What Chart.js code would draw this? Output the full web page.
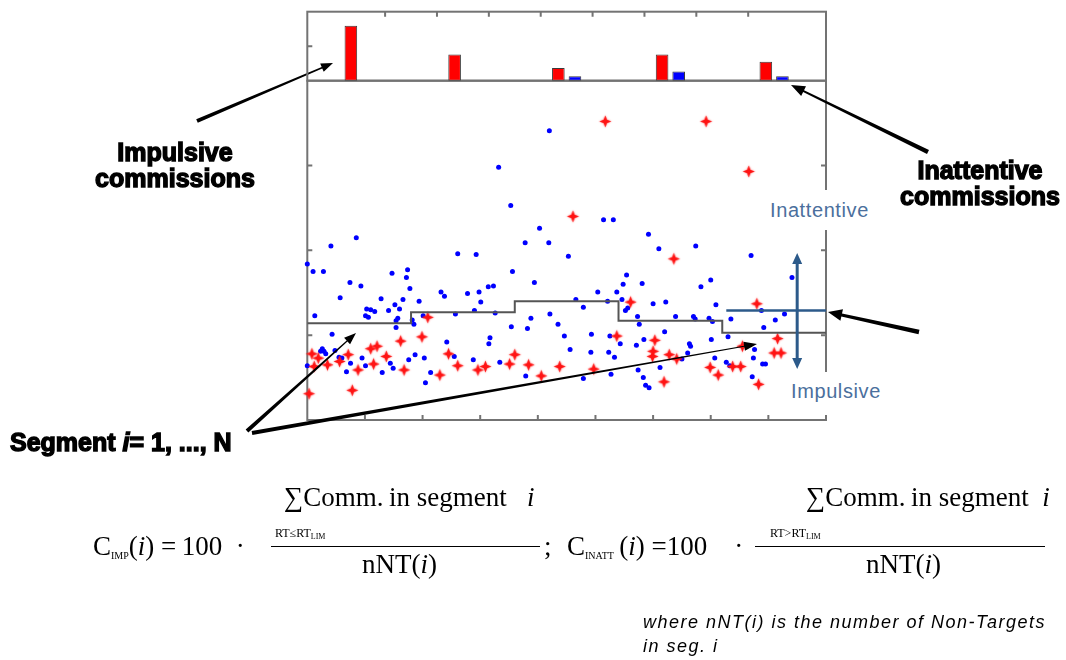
<!DOCTYPE html>
<html>
<head>
<meta charset="utf-8">
<script src="https://cdn.jsdelivr.net/npm/chart.js@4.4.0/dist/chart.umd.min.js"></script>
<style>
  html, body { margin: 0; padding: 0; background: #fff; }
  #wrap { position: relative; width: 1066px; height: 660px; overflow: hidden; }
  canvas { position: absolute; left: 0; top: 0; }
  .t { position: absolute; white-space: nowrap; z-index: 5; }
  .heavy { font-family: "Liberation Sans", Arial, sans-serif; font-weight: bold; font-size: 25px;
           line-height: 26px; color: #000; -webkit-text-stroke: 1.4px #000; text-align: center; }
  .zone { font-family: "Liberation Sans", Arial, sans-serif; font-size: 20px; color: #4b6f9d;
          letter-spacing: 0.6px; background: #fff; padding: 0 6px; }
  .f { font-family: "Liberation Serif", "Times New Roman", serif; font-size: 27px; line-height: 27px; color: #000; }
  .f .sub { font-size: 10px; position: relative; top: 4px; }
  .small { font-family: "Liberation Serif", "Times New Roman", serif; font-size: 12px; line-height: 12px; }
  .small .sub { font-size: 8px; position: relative; top: 2px; }
  .bar { position: absolute; height: 1px; background: #000; z-index: 5; }
  .note { font-family: "Liberation Sans", Arial, sans-serif; font-style: italic; font-size: 18px;
          line-height: 24px; letter-spacing: 1.5px; color: #000; }
</style>
</head>
<body>
<div id="wrap">
  <canvas id="scatter" width="1066" height="660"></canvas>
  <canvas id="bars" width="1066" height="100"></canvas>

  <!-- annotations -->
  <div class="t heavy" style="left:75px;top:139px;width:200px">Impulsive<br>commissions</div>
  <div class="t heavy" style="left:880px;top:157px;width:200px">Inattentive<br>commissions</div>
  <div class="t heavy" style="left:10px;top:429px">Segment <i>i</i>= 1, ..., N</div>

  <div class="t zone" style="left:764px;top:190px;height:40px;line-height:40px">Inattentive</div>
  <div class="t zone" style="left:785px;top:372px;height:38px;line-height:38px;padding-bottom:5px">Impulsive</div>

  <!-- formulas -->
  <div class="t f" style="left:284px;top:484px">&sum;Comm.&thinsp;in segment&nbsp;&nbsp;&nbsp;<i>i</i></div>
  <div class="t f" style="left:93px;top:533px">C<span class="sub">IMP</span>(<i>i</i>)&nbsp;=&thinsp;100&nbsp;&nbsp;&middot;</div>
  <div class="t small" style="left:275px;top:527px">RT&le;RT<span class="sub">LIM</span></div>
  <div class="bar" style="left:271px;top:546px;width:269px"></div>
  <div class="t f" style="left:544px;top:533px">;</div>
  <div class="t f" style="left:362px;top:551px">nNT(<i>i</i>)</div>

  <div class="t f" style="left:806px;top:484px">&sum;Comm.&thinsp;in segment&nbsp;&nbsp;<i>i</i></div>
  <div class="t f" style="left:567px;top:533px">C<span class="sub">INATT</span>&thinsp;(<i>i</i>)&nbsp;=100&nbsp;&nbsp;&nbsp;&nbsp;&middot;</div>
  <div class="t small" style="left:770px;top:527px">RT&gt;RT<span class="sub">LIM</span></div>
  <div class="bar" style="left:755px;top:546px;width:290px"></div>
  <div class="t f" style="left:866px;top:551px">nNT(<i>i</i>)</div>

  <div class="t note" style="left:643px;top:610px">where nNT(i) is the number of Non-Targets<br>in seg. i</div>
</div>

<script>
// segments of the test (top panel categories)
var segments = ["1", "2", "3", "4", "5"];
var impulsiveComm = [1.59, 0.76, 0.37, 0.76, 0.55];
var inattentiveComm = [0, 0, 0.13, 0.27, 0.13];

// segment borders and RT threshold per segment
var segmentEdges = [0, 1.8, 3.6, 5.4, 7.2, 9];
var segmentLimit = [1.14, 1.27, 1.40, 1.17, 1.03];

// global RT limit line and the impulsive / inattentive arrow
var rtLimit = 1.29;
var rtLimitStart = 7.27;
var zoneArrowX = 8.5;
var zoneArrowTop = 1.97;
var zoneArrowBottom = 0.60;

// axis tick values
var xTickValues = [1, 2, 3, 4, 5, 6, 7, 8];
var yTickValues = [1, 2, 3];
var barTickValues = [1];

// reaction times of non-targets (blue) and commissions (red)
var nonTargets = [
    [4.20, 3.41], [3.32, 2.98], [3.53, 2.53], [5.14, 2.36], [5.31, 2.36], [4.03, 2.26],
    [0.85, 2.15], [0.41, 2.05], [0.00, 1.84], [0.10, 1.75], [0.28, 1.75], [0.74, 1.62],
    [0.93, 1.58], [1.47, 1.73], [1.74, 1.77], [1.72, 1.68], [1.78, 1.55], [2.32, 1.51],
    [2.38, 1.46], [0.57, 1.44], [1.28, 1.43], [1.66, 1.42], [1.52, 1.36], [1.94, 1.40],
    [1.60, 1.31], [1.41, 1.29], [1.03, 1.31], [1.10, 1.30], [1.17, 1.28], [1.01, 1.23],
    [1.06, 1.21], [0.13, 1.23], [1.57, 1.20], [1.54, 1.17], [1.82, 1.18], [1.85, 1.13],
    [1.54, 1.09], [2.01, 1.23], [0.43, 1.01], [0.26, 0.84], [0.29, 0.81], [0.23, 0.81],
    [0.32, 0.78], [0.48, 0.82], [0.55, 0.74], [0.60, 0.73], [0.75, 0.67], [0.68, 0.57],
    [0.95, 0.73], [1.01, 0.64], [1.30, 0.56], [1.44, 0.67], [1.49, 0.61], [1.76, 0.71],
    [1.87, 0.77], [2.03, 0.73], [2.14, 0.56], [2.05, 0.44], [0.00, 0.64],
    [2.61, 1.96], [2.93, 1.95], [3.78, 2.09], [4.19, 2.09], [4.53, 1.93], [3.56, 1.75],
    [3.94, 1.62], [3.14, 1.57], [3.23, 1.58], [2.78, 1.49], [2.98, 1.51], [3.01, 1.39],
    [2.90, 1.29], [2.57, 1.25], [3.26, 1.26], [4.21, 1.25], [3.88, 1.20], [3.54, 1.10],
    [3.82, 1.08], [4.35, 1.13], [4.46, 0.99], [3.17, 0.97], [3.15, 0.90], [2.42, 0.92],
    [4.56, 0.83], [2.55, 0.75], [2.88, 0.71], [3.34, 0.68], [3.79, 0.52],
    [5.92, 2.19], [6.10, 2.02], [6.74, 2.05], [5.54, 1.71], [5.48, 1.60], [5.81, 1.61],
    [5.04, 1.51], [5.37, 1.51], [4.66, 1.42], [5.21, 1.40], [5.46, 1.42], [5.56, 1.32],
    [5.52, 1.29], [6.00, 1.37], [6.22, 1.39], [4.79, 1.33], [5.73, 1.22], [5.76, 1.13],
    [6.39, 1.22], [6.70, 1.22], [6.73, 1.19], [4.93, 1.01], [5.25, 0.99], [5.43, 0.90],
    [6.20, 1.04], [5.84, 0.95], [5.71, 0.88], [4.92, 0.80], [5.23, 0.80], [5.33, 0.74],
    [6.63, 0.90], [6.65, 0.87], [6.60, 0.79], [6.50, 0.72], [6.12, 0.62], [5.74, 0.59],
    [5.83, 0.50], [5.87, 0.41], [5.93, 0.38], [5.27, 0.54], [4.79, 0.49],
    [7.70, 1.94], [7.00, 1.65], [6.83, 1.57], [8.41, 1.68], [7.09, 1.36], [6.97, 1.20],
    [7.03, 1.16], [7.35, 1.19], [7.88, 1.29], [8.28, 1.25], [8.12, 1.18], [7.92, 1.09],
    [7.01, 0.95], [7.30, 0.98], [7.76, 0.83], [7.07, 0.73], [7.74, 0.73], [7.27, 0.68],
    [7.33, 0.64], [7.90, 0.66], [7.95, 0.66], [7.72, 0.51]
];
var commissions = [
    [5.17, 3.52], [6.92, 3.52], [7.66, 2.93], [4.61, 2.40], [6.36, 1.90],
    [2.09, 1.21], [1.62, 0.93], [1.99, 0.98], [1.21, 0.87], [1.10, 0.84], [1.37, 0.75],
    [0.71, 0.77], [0.08, 0.78], [0.19, 0.73], [0.35, 0.65], [0.12, 0.63], [0.56, 0.69],
    [0.88, 0.59], [1.15, 0.66], [1.68, 0.59], [0.78, 0.35], [0.03, 0.31], [2.30, 0.53],
    [2.45, 0.78], [2.61, 0.64], [2.96, 0.59], [3.09, 0.63], [3.60, 0.77], [3.51, 0.66],
    [3.84, 0.65], [4.06, 0.52], [4.38, 0.63],
    [5.61, 1.39], [5.37, 0.99], [6.03, 0.94], [6.00, 0.81], [5.99, 0.75], [6.28, 0.77],
    [6.41, 0.72], [4.97, 0.60], [6.19, 0.45],
    [7.80, 1.37], [8.16, 0.96], [7.55, 0.87], [8.10, 0.79], [8.22, 0.79], [6.99, 0.62],
    [7.13, 0.53], [7.38, 0.63], [7.52, 0.63], [7.83, 0.42]
];

function toPoints(list) {
    return list.map(function (p) { return { x: p[0], y: p[1] }; });
}

// red 4-point star marker
function makeStar(size) {
    var c = document.createElement("canvas");
    c.width = size; c.height = size;
    var g = c.getContext("2d");
    var r = size / 2;
    g.translate(r, r);
    g.fillStyle = "#ff1414";
    g.shadowColor = "rgba(255,40,40,0.6)";
    g.shadowBlur = 2;
    g.beginPath();
    for (var i = 0; i < 8; i++) {
        var a = i * Math.PI / 4 - Math.PI / 2;
        var rad = i % 2 === 0 ? r - 1.5 : r * 0.32;
        g.lineTo(Math.cos(a) * rad, Math.sin(a) * rad);
    }
    g.closePath();
    g.fill();
    return c;
}

// arrow with a thick tail and a thin shaft
function taperArrow(ctx, x0, y0, x1, y1, w0, w1, head, headW) {
    var dx = x1 - x0, dy = y1 - y0, len = Math.hypot(dx, dy);
    var ux = dx / len, uy = dy / len, nx = -uy, ny = ux;
    var bx = x1 - ux * head, by = y1 - uy * head;
    ctx.beginPath();
    ctx.moveTo(x0 + nx * w0 / 2, y0 + ny * w0 / 2);
    ctx.lineTo(bx + nx * w1 / 2, by + ny * w1 / 2);
    ctx.lineTo(bx + nx * headW / 2, by + ny * headW / 2);
    ctx.lineTo(x1, y1);
    ctx.lineTo(bx - nx * headW / 2, by - ny * headW / 2);
    ctx.lineTo(bx - nx * w1 / 2, by - ny * w1 / 2);
    ctx.lineTo(x0 - nx * w0 / 2, y0 - ny * w0 / 2);
    ctx.closePath();
    ctx.fill();
}

var frameColor = "#737373";

// frame of the scatter panel with inward ticks
var scatterFrame = {
    id: "scatterFrame",
    beforeDatasetsDraw: function (chart) {
        var ctx = chart.ctx, a = chart.chartArea, x = chart.scales.x, y = chart.scales.y;
        ctx.save();
        ctx.strokeStyle = frameColor;
        ctx.lineWidth = 2;
        ctx.strokeRect(a.left, a.top, a.right - a.left, a.bottom - a.top);
        ctx.beginPath();
        xTickValues.forEach(function (v) {
            var px = x.getPixelForValue(v);
            ctx.moveTo(px, a.bottom); ctx.lineTo(px, a.bottom - 5);
        });
        yTickValues.forEach(function (v) {
            var py = y.getPixelForValue(v);
            ctx.moveTo(a.left, py); ctx.lineTo(a.left + 5, py);
            ctx.moveTo(a.right, py); ctx.lineTo(a.right - 5, py);
        });
        ctx.stroke();
        ctx.restore();
    },
    afterDraw: function (chart) {
        var ctx = chart.ctx, x = chart.scales.x, y = chart.scales.y;
        ctx.save();
        // impulsive / inattentive double arrow
        var ax = x.getPixelForValue(zoneArrowX);
        var top = y.getPixelForValue(zoneArrowTop), bottom = y.getPixelForValue(zoneArrowBottom);
        ctx.fillStyle = "#2c5a8a";
        taperArrow(ctx, ax, (top + bottom) / 2, ax, top, 3, 3, 11, 10);
        taperArrow(ctx, ax, (top + bottom) / 2, ax, bottom, 3, 3, 11, 10);
        // black pointer arrows
        ctx.fillStyle = "#000";
        taperArrow(ctx, 197, 121, 333, 63, 4, 1.5, 12, 9);
        taperArrow(ctx, 928, 152, 791, 85, 4.5, 2, 14, 11);
        taperArrow(ctx, 919, 332, 828, 312, 4.5, 3, 14, 12);
        taperArrow(ctx, 247, 431, 356, 333, 4, 1.2, 12, 9);
        taperArrow(ctx, 252, 433, 757, 344, 4, 1.2, 13, 9);
        ctx.restore();
    }
};

var scatterChart = new Chart(document.getElementById("scatter"), {
    type: "scatter",
    data: {
        datasets: [{
            label: "Segment limit",
            type: "line",
            data: segmentEdges.map(function (e, i) {
                return { x: e, y: segmentLimit[Math.min(i, segmentLimit.length - 1)] };
            }),
            stepped: true,
            borderColor: "#555555",
            borderWidth: 2,
            pointRadius: 0,
            fill: false
        }, {
            label: "RT limit",
            type: "line",
            data: [{ x: rtLimitStart, y: rtLimit }, { x: segmentEdges[segmentEdges.length - 1], y: rtLimit }],
            borderColor: "#2c5a8a",
            borderWidth: 2.5,
            pointRadius: 0,
            fill: false
        }, {
            label: "Commissions",
            data: toPoints(commissions),
            pointStyle: makeStar(15),
            pointRadius: 7,
            clip: 8
        }, {
            label: "Non-targets",
            data: toPoints(nonTargets),
            pointStyle: "circle",
            pointRadius: 2.5,
            backgroundColor: "#0000ff",
            borderWidth: 0,
            clip: 6
        }]
    },
    options: {
        responsive: false,
        animation: false,
        devicePixelRatio: 1,
        layout: { padding: { left: 307.3, right: 240, top: 80.7, bottom: 240 } },
        plugins: { legend: { display: false }, tooltip: { enabled: false } },
        scales: {
            x: { type: "linear", min: 0, max: 9, display: false },
            y: { type: "linear", min: 0, max: 4, display: false }
        }
    },
    plugins: [scatterFrame]
});

// frame of the commission bar panel
var barFrame = {
    id: "barFrame",
    beforeDatasetsDraw: function (chart) {
        var ctx = chart.ctx, a = chart.chartArea, xt = chart.scales.xt, y = chart.scales.y;
        ctx.save();
        ctx.strokeStyle = frameColor;
        ctx.lineWidth = 2;
        ctx.strokeRect(a.left, a.top, a.right - a.left, a.bottom - a.top);
        ctx.beginPath();
        xTickValues.forEach(function (v) {
            var px = xt.getPixelForValue(v);
            ctx.moveTo(px, a.top); ctx.lineTo(px, a.top + 5);
        });
        barTickValues.forEach(function (v) {
            var py = y.getPixelForValue(v);
            ctx.moveTo(a.left, py); ctx.lineTo(a.left + 5, py);
        });
        ctx.stroke();
        ctx.restore();
    }
};

var barChart = new Chart(document.getElementById("bars"), {
    type: "bar",
    data: {
        labels: segments,
        datasets: [{
            label: "Impulsive",
            data: impulsiveComm,
            backgroundColor: "#ff0000",
            borderColor: "#3a3a3a",
            borderWidth: 1,
            borderSkipped: false,
            categoryPercentage: 0.32,
            barPercentage: 0.76
        }, {
            label: "Inattentive",
            data: inattentiveComm,
            backgroundColor: "#0000ff",
            borderColor: "#3a3a3a",
            borderWidth: 1,
            borderSkipped: false,
            categoryPercentage: 0.32,
            barPercentage: 0.76
        }]
    },
    options: {
        responsive: false,
        animation: false,
        devicePixelRatio: 1,
        layout: { padding: { left: 307.3, right: 240, top: 11.7, bottom: 19.3 } },
        plugins: { legend: { display: false }, tooltip: { enabled: false } },
        scales: {
            x: { type: "category", offset: true, display: false },
            xt: { type: "linear", axis: "x", position: "top", min: 0, max: 9, display: false },
            y: { type: "linear", min: 0, max: 2, display: false }
        }
    },
    plugins: [barFrame]
});
</script>
</body>
</html>
